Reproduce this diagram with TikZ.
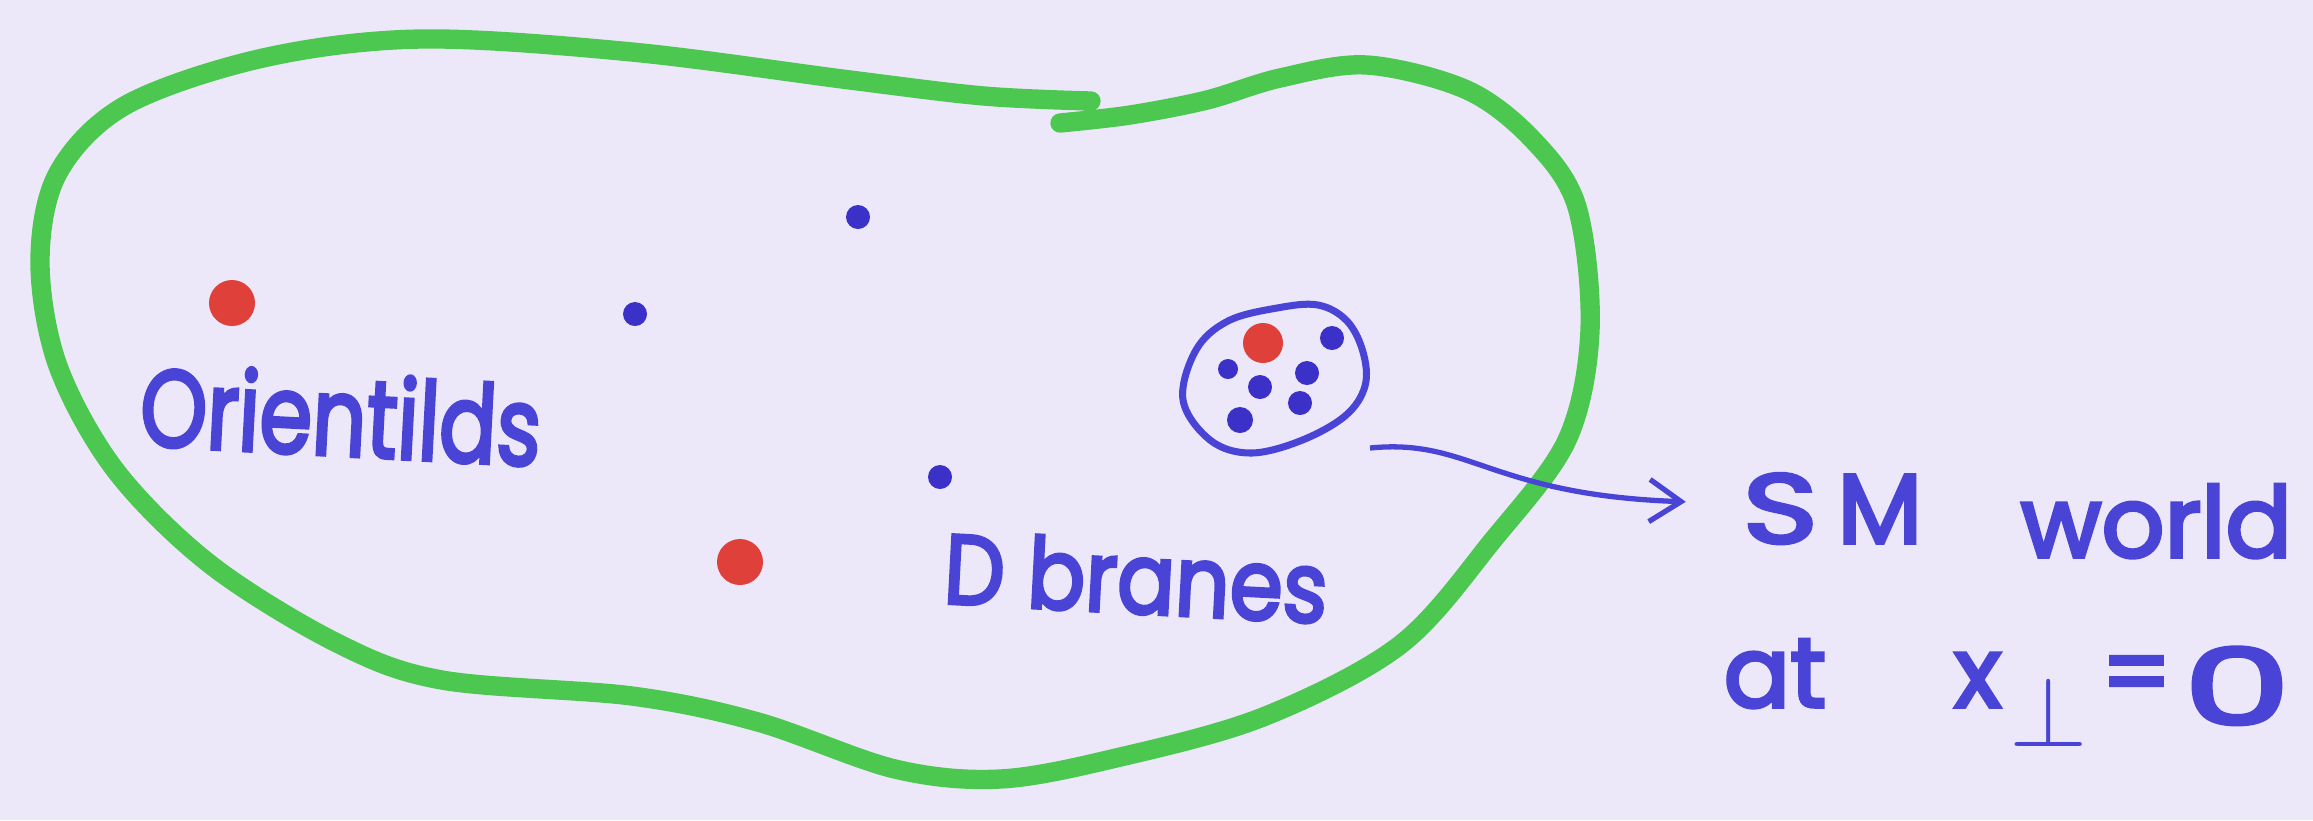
\documentclass[tikz,border=0pt]{standalone}
\usepackage{fontspec}
\setmainfont{Poppins}[FakeBold=3.5]
\usepackage{graphicx}
\usepackage{tikz}
\usetikzlibrary{arrows.meta,positioning,calc}
\definecolor{paper}{HTML}{ECE8FA}
\definecolor{penblue}{HTML}{4A44D6}
\definecolor{dotblue}{HTML}{3B30C8}
\definecolor{penred}{HTML}{E0403A}
\definecolor{pengreen}{HTML}{4CC850}

\begin{document}
\begin{tikzpicture}[x=0.01cm, y=-0.01cm,
    handtext/.style={text=penblue, font=\fontsize{28}{30}\selectfont, inner sep=0pt}]
    % 背景
    \fill[paper] (0,0) rectangle (2313,820);
    \useasboundingbox (0,0) rectangle (2313,820);

    % 绿色边界
    \draw[pengreen, line width=5.5pt, line cap=round]
        plot[smooth, tension=0.55] coordinates {
            (1091,101) (984,96) (850,80) (632,52) (421,39) (263,58) (126,105)
            (58,173) (40,262) (58,366) (116,471) (211,565) (337,643) (442,680)
            (632,696) (758,722) (895,769) (1000,779) (1116,758) (1263,717)
            (1400,645) (1493,540) (1567,440) (1590,330) (1577,207) (1533,140)
            (1467,90) (1367,65) (1280,78) (1207,100) (1130,115) (1060,123)};

    % 红点
    \foreach \x/\y in {232/303, 740/562} {
        \fill[penred] (\x,\y) circle (23);
    }

    % 蓝点
    \foreach \x/\y in {858/217, 635/314, 940/477} {
        \fill[dotblue] (\x,\y) circle (12);
    }

    % 小团
    \draw[penblue, line width=2pt]
        plot[smooth cycle, tension=0.6] coordinates {
            (1183,400) (1196,350) (1228,321) (1277,308) (1318,305) (1347,321)
            (1363,352) (1365,386) (1345,416) (1300,441) (1250,453) (1210,440)};
    \fill[penred] (1263,343) circle (20);
    \foreach \x/\y/\r in {1332/338/12, 1228/369/10, 1260/387/12,
                          1307/373/12, 1300/403/12, 1240/420/13} {
        \fill[dotblue] (\x,\y) circle (\r);
    }

    % 标注
    \node[handtext, font=\fontsize{31}{33}\selectfont, anchor=base west, rotate=-3, xscale=0.78]
        (orient) at (138,445) {Orientilds};
    \node[handtext, anchor=base west, rotate=-3, xscale=0.87] (branes) at (942,603) {D branes};
    \node[handtext, anchor=base west] (smline) at (1742,543)
        {\scalebox{1.3}[1]{S}\hspace{0.2em}M\hspace{1.0em}\raisebox{-4pt}{world}};
    \node[handtext, anchor=base west] (atline) at (1723,707)
        {at\hspace{1.3em}x\hspace{0.08em}$_{\raisebox{3pt}{\scalebox{1.15}{$\perp$}}}$\hspace{0.12em}=\hspace{0.12em}%
         \raisebox{-5pt}{\scalebox{1.6}[1]{\fontsize{30}{30}\selectfont 0}}};

    % 箭头
    \coordinate (tail) at (1370,448);
    \draw[penblue, line width=1.5pt, -{Straight Barb[length=9pt,width=12pt]}, shorten >=16pt]
        (tail) .. controls (1470,438) and (1490,495) .. ($(smline.west)+(0,-12)$);
\end{tikzpicture}
\end{document}
